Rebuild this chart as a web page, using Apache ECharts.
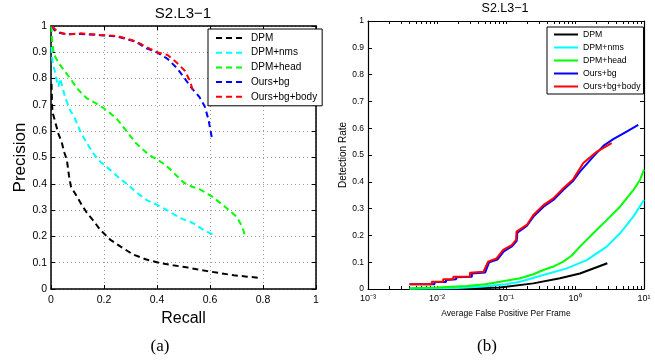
<!DOCTYPE html>
<html>
<head>
<meta charset="utf-8">
<script src="https://cdn.jsdelivr.net/npm/echarts@6/dist/echarts.min.js"></script>
<style>
html,body{margin:0;padding:0;background:#fff;}
#chart{width:655px;height:362px;}
</style>
</head>
<body>
<div id="chart"></div>
<script>
// ---------- data ----------
const seriesNames = ['DPM', 'DPM+nms', 'DPM+head', 'Ours+bg', 'Ours+bg+body'];
const chartTitle = 'S2.L3\u22121';
const captions = ['(a)', '(b)'];
const prTicksX = [0, 0.2, 0.4, 0.6, 0.8, 1];
const prTicksY = [0, 0.1, 0.2, 0.3, 0.4, 0.5, 0.6, 0.7, 0.8, 0.9, 1];

// (a) Precision-Recall : [recall, precision]
const prDPM = [[0.002,0.78],[0.003,0.74],[0.004,0.70],[0.006,0.67],[0.012,0.65],[0.02,0.62],[0.028,0.59],[0.04,0.56],[0.05,0.52],[0.06,0.49],[0.068,0.43],[0.075,0.39],[0.097,0.353],[0.116,0.32],[0.135,0.29],[0.16,0.26],[0.185,0.226],[0.223,0.188],[0.26,0.163],[0.31,0.131],[0.36,0.112],[0.41,0.099],[0.46,0.09],[0.51,0.083],[0.55,0.075],[0.59,0.068],[0.64,0.06],[0.69,0.052],[0.74,0.047],[0.79,0.042]];
const prNMS = [[0.002,0.92],[0.004,0.88],[0.008,0.85],[0.015,0.826],[0.022,0.79],[0.028,0.77],[0.034,0.80],[0.04,0.78],[0.053,0.73],[0.072,0.68],[0.09,0.65],[0.11,0.60],[0.135,0.555],[0.16,0.515],[0.185,0.485],[0.223,0.453],[0.26,0.42],[0.298,0.39],[0.317,0.371],[0.36,0.339],[0.40,0.32],[0.436,0.301],[0.487,0.27],[0.537,0.25],[0.575,0.225],[0.613,0.206]];
const prHead = [[0.002,1.0],[0.003,0.96],[0.005,0.93],[0.01,0.90],[0.015,0.885],[0.028,0.86],[0.047,0.835],[0.065,0.81],[0.08,0.79],[0.097,0.765],[0.115,0.745],[0.135,0.725],[0.17,0.706],[0.21,0.68],[0.25,0.645],[0.285,0.60],[0.32,0.555],[0.37,0.51],[0.42,0.48],[0.45,0.455],[0.50,0.405],[0.53,0.39],[0.56,0.38],[0.61,0.35],[0.66,0.31],[0.70,0.275],[0.72,0.24],[0.735,0.195]];
const prBg = [[0.005,1.0],[0.012,0.985],[0.028,0.975],[0.06,0.968],[0.11,0.97],[0.185,0.965],[0.25,0.96],[0.285,0.95],[0.32,0.94],[0.36,0.915],[0.40,0.90],[0.44,0.875],[0.475,0.84],[0.505,0.80],[0.53,0.765],[0.56,0.73],[0.58,0.695],[0.594,0.645],[0.607,0.575]];
const prBody = [[0.005,1.0],[0.012,0.99],[0.028,0.977],[0.06,0.968],[0.11,0.972],[0.185,0.966],[0.25,0.962],[0.285,0.952],[0.32,0.942],[0.36,0.92],[0.40,0.90],[0.44,0.89],[0.475,0.86],[0.505,0.83],[0.525,0.79],[0.535,0.755]];

// (b) Detection rate vs FPPF : [avg false positives per frame, detection rate]
const fpTicks = [0.001, 0.01, 0.1, 1, 10];
const rocDPM = [[0.0089,0.0],[0.03,0.002],[0.082,0.006],[0.249,0.021],[0.607,0.04],[1.18,0.058],[2.06,0.081],[2.94,0.096]];
const rocNMS = [[0.004,0.001],[0.02,0.004],[0.047,0.009],[0.1,0.018],[0.16,0.027],[0.348,0.052],[0.76,0.077],[1.48,0.108],[2.88,0.158],[4.49,0.208],[7.0,0.27],[10,0.332]];
const rocHead = [[0.004,0.003],[0.01,0.006],[0.027,0.011],[0.05,0.018],[0.082,0.027],[0.16,0.04],[0.25,0.055],[0.348,0.071],[0.5,0.085],[0.677,0.102],[0.9,0.125],[1.18,0.158],[1.84,0.208],[2.88,0.257],[4.49,0.307],[7.0,0.369],[8.75,0.407],[10,0.445]];
const rocBg = [[0.004,0.018],[0.0092,0.018],[0.0092,0.026],[0.0135,0.026],[0.0135,0.034],[0.019,0.036],[0.019,0.044],[0.032,0.046],[0.032,0.058],[0.05,0.062],[0.057,0.1],[0.075,0.11],[0.093,0.14],[0.123,0.16],[0.143,0.18],[0.146,0.21],[0.2,0.235],[0.25,0.27],[0.35,0.307],[0.49,0.333],[0.68,0.37],[0.95,0.405],[1.18,0.438],[1.84,0.494],[2.6,0.535],[3.59,0.559],[5.6,0.587],[8.26,0.612]];
const rocBody = [[0.004,0.018],[0.0084,0.018],[0.0084,0.027],[0.0123,0.027],[0.0123,0.036],[0.0172,0.036],[0.0172,0.046],[0.030,0.046],[0.030,0.061],[0.047,0.064],[0.055,0.102],[0.073,0.114],[0.091,0.146],[0.121,0.164],[0.14,0.183],[0.142,0.214],[0.2,0.239],[0.249,0.276],[0.348,0.313],[0.485,0.338],[0.677,0.376],[0.944,0.41],[1.32,0.47],[2.06,0.512],[3.4,0.544]];

// ---------- styling / build ----------
const colors = ['#000000', '#00ffff', '#00ff00', '#0000ff', '#ff0000'];
const SANS = '"Liberation Sans", Arial, sans-serif';
const prData = [prDPM, prNMS, prHead, prBg, prBody];
const rocData = [rocDPM, rocNMS, rocHead, rocBg, rocBody];
const SUP = {'-': '\u207B', '0': '\u2070', '1': '\u00B9', '2': '\u00B2', '3': '\u00B3'};

const minorFp = [];
for (let e = -3; e <= 0; e++) for (let k = 1; k <= 10; k++) minorFp.push(+(k * Math.pow(10, e)).toPrecision(3));

const gridA = {left: 51, top: 26, width: 265, height: 263};
const gridB = {left: 368, top: 21, width: 276, height: 268};

function linAxisX(pos, labels) {
  return {
    type: 'value', gridIndex: 0, position: pos, min: 0, max: 1, interval: 0.2,
    axisLine: {show: true, onZero: false, lineStyle: {color: '#000', width: 1.5}},
    axisTick: {show: true, inside: true, length: 4, lineStyle: {color: '#000'}},
    axisLabel: {show: labels, margin: 6, color: '#000', fontFamily: SANS, fontSize: 10.5},
    splitLine: {show: labels, lineStyle: {color: '#9a9a9a', type: [1, 3], width: 1}}
  };
}
function linAxisY(gi, pos, labels, fs, lw, grid) {
  return {
    type: 'value', gridIndex: gi, position: pos, min: 0, max: 1, interval: 0.1,
    axisLine: {show: true, onZero: false, lineStyle: {color: '#000', width: lw}},
    axisTick: {show: true, inside: true, length: 4, lineStyle: {color: '#000'}},
    axisLabel: {show: labels, margin: 4, color: '#000', fontFamily: SANS, fontSize: fs},
    splitLine: {show: grid && labels, lineStyle: {color: '#9a9a9a', type: [1, 3], width: 1}}
  };
}
function logAxisX(pos, labels) {
  return {
    type: 'log', logBase: 10, gridIndex: 1, position: pos, min: 0.001, max: 10,
    axisLine: {show: true, onZero: false, lineStyle: {color: '#000', width: 1.2}},
    axisTick: {show: true, inside: true, length: 3, customValues: minorFp, lineStyle: {color: '#000'}},
    axisLabel: {
      show: labels, margin: 5, color: '#000', customValues: fpTicks,
      fontFamily: SANS, fontSize: 9,
      formatter: v => '10' + String(Math.round(Math.log10(v))).split('').map(c => SUP[c]).join('')
    },
    splitLine: {show: false}
  };
}

const series = [];
seriesNames.forEach((n, i) => {
  series.push({
    name: n, type: 'line', xAxisIndex: 0, yAxisIndex: 0, data: prData[i],
    symbol: 'none', smooth: false, animation: false, z: 2 + i,
    lineStyle: {color: colors[i], width: 2, type: [6, 4]}, itemStyle: {color: colors[i]}
  });
});
seriesNames.forEach((n, i) => {
  series.push({
    name: n, type: 'line', xAxisIndex: 2, yAxisIndex: 2, data: rocData[i],
    symbol: 'none', smooth: false, animation: false, z: 2 + i,
    lineStyle: {color: colors[i], width: 2, type: 'solid'}, itemStyle: {color: colors[i]}
  });
});

const option = {
  animation: false,
  backgroundColor: '#fff',
  grid: [
    Object.assign({containLabel: false}, gridA),
    Object.assign({containLabel: false}, gridB)
  ],
  xAxis: [
    Object.assign(linAxisX('bottom', true), {
      name: 'Recall', nameLocation: 'middle', nameGap: 15,
      nameTextStyle: {fontFamily: SANS, fontSize: 16, color: '#000', verticalAlign: 'top'}
    }),
    linAxisX('top', false),
    Object.assign(logAxisX('bottom', true), {
      name: 'Average False Positive Per Frame', nameLocation: 'middle', nameGap: 20,
      nameTextStyle: {fontFamily: SANS, fontSize: 8.5, color: '#000', verticalAlign: 'top'}
    }),
    logAxisX('top', false)
  ],
  yAxis: [
    Object.assign(linAxisY(0, 'left', true, 10.5, 1.5, true), {
      name: 'Precision', nameLocation: 'middle', nameGap: 22,
      nameTextStyle: {fontFamily: SANS, fontSize: 17, color: '#000'}
    }),
    linAxisY(0, 'right', false, 10.5, 1.5, false),
    Object.assign(linAxisY(1, 'left', true, 8.5, 1.2, false), {
      name: 'Detection Rate', nameLocation: 'middle', nameGap: 18,
      nameTextStyle: {fontFamily: SANS, fontSize: 10, color: '#000'}
    }),
    linAxisY(1, 'right', false, 8.5, 1.2, false)
  ],
  legend: [
    {
      left: 208, top: 29, orient: 'vertical', backgroundColor: '#fff',
      borderColor: '#000', borderWidth: 1, padding: [4, 5, 4, 7],
      itemWidth: 30, itemHeight: 10, itemGap: 4.7, selectedMode: false,
      itemStyle: {opacity: 0},
      textStyle: {fontFamily: SANS, fontSize: 10, color: '#000'},
      data: seriesNames.map((n, i) => ({name: n, lineStyle: {type: [6, 4], width: 2, color: colors[i]}}))
    },
    {
      left: 547, top: 27, orient: 'vertical', backgroundColor: '#fff',
      borderColor: '#000', borderWidth: 1, padding: [3, 3, 3, 6],
      itemWidth: 24, itemHeight: 10, itemGap: 4, selectedMode: false,
      itemStyle: {opacity: 0},
      textStyle: {fontFamily: SANS, fontSize: 8.7, color: '#000'},
      data: seriesNames.map((n, i) => ({name: n, lineStyle: {type: 'solid', width: 2, color: colors[i]}}))
    }
  ],
  graphic: [
    {type: 'text', silent: true, style: {text: chartTitle, x: 183, y: 14, textAlign: 'center', textVerticalAlign: 'middle', font: '15px "Liberation Sans", Arial, sans-serif', fill: '#000'}},
    {type: 'text', silent: true, style: {text: chartTitle, x: 505, y: 9, textAlign: 'center', textVerticalAlign: 'middle', font: '12.5px "Liberation Sans", Arial, sans-serif', fill: '#000'}},
    {type: 'text', silent: true, style: {text: captions[0], x: 160, y: 347, textAlign: 'center', textVerticalAlign: 'middle', font: '17px "Liberation Serif", "Times New Roman", serif', fill: '#000'}},
    {type: 'text', silent: true, style: {text: captions[1], x: 487, y: 347, textAlign: 'center', textVerticalAlign: 'middle', font: '17px "Liberation Serif", "Times New Roman", serif', fill: '#000'}}
  ],
  series: series
};

const chart = echarts.init(document.getElementById('chart'), null, {renderer: 'canvas'});
chart.setOption(option);
</script>
</body>
</html>
